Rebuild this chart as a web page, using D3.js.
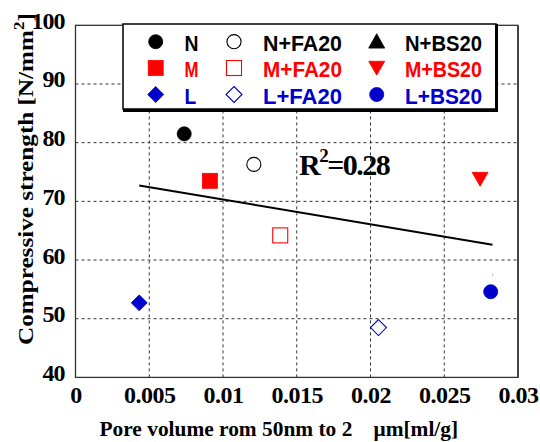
<!DOCTYPE html>
<html><head><meta charset="utf-8">
<script src="https://cdn.jsdelivr.net/npm/d3@7"></script>
<style>body{margin:0;background:#fff}svg{display:block}</style>
</head><body><svg id="c" width="540" height="442"></svg>
<script>
// ---- data ----
const seriesNames = ["N","N+FA20","N+BS20","M","M+FA20","M+BS20","L","L+FA20","L+BS20"];
const poreVolume  = [0.00737,0.01209,0.02827,0.00911,0.01388,0.02743,0.00432,0.02054,0.02815];
const strength    = [81.5,76.3,57.5,73.5,64.2,73.8,52.7,48.5,54.6];
const trendX = [0.00432, 0.02827];
const trendY = [72.7, 62.6];
const r2Label = "0.28";
const xTicks = [0,0.005,0.01,0.015,0.02,0.025,0.03];
const xTickLabels = ["0","0.005","0.01","0.015","0.02","0.025","0.03"];
const yTicks = [40,50,60,70,80,90,100];
const yTickLabels = ["40","50","60","70","80","90","100"];

// ---- styles ----
const RED="#ff0000", BLUE="#0000cc", BLK="#000000";
const markerColor = [BLK,BLK,BLK,RED,RED,RED,BLUE,BLUE,BLUE];
const markerShape = ["circle","circle","triangle","square","square","triangleDown","diamond","diamond","circle"];
const markerFilled= [true,false,true,true,false,true,true,false,true];

const svg = d3.select("#c");
const x = d3.scaleLinear().domain([0,0.03]).range([75.5,518]);
const y = d3.scaleLinear().domain([40,100]).range([377.4,25.3]);
const SERIF = "'Liberation Serif','Times New Roman',serif";
const NARROW = "'Liberation Sans Narrow','Arial Narrow','Liberation Sans',sans-serif";

// grid
const grid = svg.append("g");
grid.selectAll(".gx").data(xTicks.slice(1,-1)).join("line")
  .attr("x1",d=>x(d)).attr("x2",d=>x(d)).attr("y1",y(40)).attr("y2",y(100))
  .attr("stroke","#333").attr("stroke-width",1).attr("stroke-dasharray","3,3");
grid.selectAll(".gy").data(yTicks.slice(1,-1)).join("line")
  .attr("y1",d=>y(d)).attr("y2",d=>y(d)).attr("x1",x(0)).attr("x2",x(0.03))
  .attr("stroke","#333").attr("stroke-width",1).attr("stroke-dasharray","3,3");

// frame
svg.append("rect").attr("x",x(0)).attr("y",y(100)).attr("width",x(0.03)-x(0)).attr("height",y(40)-y(100))
  .attr("fill","none").attr("stroke","#333").attr("stroke-width",1.3);
svg.append("line").attr("x1",x(0.03)).attr("x2",x(0.03)).attr("y1",y(100)).attr("y2",y(40))
  .attr("stroke","#444").attr("stroke-width",2);

// axes via d3.axis (labels only)
const xAxis = d3.axisBottom(x).tickValues(xTicks).tickFormat((d,i)=>xTickLabels[i]).tickSize(0).tickPadding(0);
const gx = svg.append("g").attr("transform",`translate(0,${y(40)+26})`).call(xAxis);
gx.select(".domain").remove();
gx.attr("font-family",null);
gx.selectAll("text").attr("dy",0).attr("font-family",SERIF).attr("font-weight","bold")
  .attr("font-size",24).attr("letter-spacing",-0.5).attr("fill","#000");

const yAxis = d3.axisLeft(y).tickValues(yTicks).tickFormat((d,i)=>yTickLabels[i]).tickSize(0).tickPadding(0);
const gy = svg.append("g").attr("transform",`translate(${x(0)-11},0)`).call(yAxis);
gy.select(".domain").remove();
gy.attr("font-family",null);
gy.selectAll("text").attr("dy",3).attr("font-family",SERIF).attr("font-weight","bold")
  .attr("font-size",24).attr("letter-spacing",-1).attr("fill","#000");

// helper to fit width
function fit(sel, w){ const bb = sel.node().getBBox(); if(bb.width>0) sel.attr("transform",`scale(${w/bb.width},1)`); }

// axis titles
const xt = svg.append("g").attr("transform","translate(99.5,436)")
  .append("text").attr("font-family",SERIF).attr("font-weight","bold").attr("font-size",21)
  .text("Pore volume rom 50nm to 2\u3000\u03bcm[ml/g]");
fit(xt, 359);

const yt = svg.append("g").attr("transform","translate(33,345) rotate(-90)")
  .append("text").attr("font-family",SERIF).attr("font-weight","bold").attr("font-size",21);
yt.append("tspan").text("Compressive strength [N/mm");
yt.append("tspan").attr("dy",-9).attr("font-size",14).text("2");
yt.append("tspan").attr("dy",9).text("]");
fit(yt, 332);

// trend line
svg.append("path").datum(trendX.map((d,i)=>[d,trendY[i]]))
  .attr("d",d3.line().x(d=>x(d[0])).y(d=>y(d[1])))
  .attr("stroke","#000").attr("stroke-width",2).attr("fill","none");

// R2 label
const r2 = svg.append("text").attr("x",299).attr("y",175).attr("font-family",SERIF)
  .attr("font-weight","bold").attr("font-size",30).attr("letter-spacing",-1.5);
r2.append("tspan").text("R");
r2.append("tspan").attr("dy",-13).attr("font-size",19).text("2");
r2.append("tspan").attr("dy",13).text("=" + r2Label);

// marker drawing
function marker(g, shape, cx, cy, s, color, filled){
  const fill = filled?color:"#fff", sw = filled?0.8:1.1;
  if(shape==="circle") g.append("circle").attr("cx",cx).attr("cy",cy).attr("r",s*0.44)
    .attr("fill",fill).attr("stroke",color).attr("stroke-width",sw);
  else if(shape==="square") g.append("rect").attr("x",cx-s/2+0.5).attr("y",cy-s/2+0.5).attr("width",s-1).attr("height",s-1)
    .attr("fill",fill).attr("stroke",color).attr("stroke-width",sw);
  else if(shape==="diamond") g.append("path").attr("d",`M${cx},${cy-s/2}L${cx+s/2},${cy}L${cx},${cy+s/2}L${cx-s/2},${cy}Z`)
    .attr("fill",fill).attr("stroke",color).attr("stroke-width",sw);
  else if(shape==="triangle") g.append("path").attr("d",`M${cx},${cy-s*0.5}L${cx+s/2},${cy+s*0.4}L${cx-s/2},${cy+s*0.4}Z`)
    .attr("fill",fill).attr("stroke",color).attr("stroke-width",sw);
  else if(shape==="triangleDown") g.append("path").attr("d",`M${cx-s/2},${cy-s*0.42}L${cx+s/2},${cy-s*0.42}L${cx},${cy+s*0.45}Z`)
    .attr("fill",fill).attr("stroke",color).attr("stroke-width",sw);
}

// points (N+BS20 is only a tiny trace in the reference)
const pts = svg.append("g");
seriesNames.forEach((n,i)=>{
  if(n==="N+BS20"){
    pts.append("rect").attr("x",x(poreVolume[i])-0.5).attr("y",y(strength[i])-0.5).attr("width",1.2).attr("height",1.2).attr("fill","#999");
    return;
  }
  marker(pts, markerShape[i], x(poreVolume[i]), y(strength[i]), 16, markerColor[i], markerFilled[i]);
});

// legend
const lg = svg.append("g");
lg.append("rect").attr("x",123).attr("y",24).attr("width",373).attr("height",85)
  .attr("fill","#fff").attr("stroke","#000").attr("stroke-width",1.5);
lg.append("path").attr("d","M496.5,24V110.5H123").attr("fill","none").attr("stroke","#000").attr("stroke-width",3);
const colMarkX = [155.7,234,376.7], colTextX=[184.5,263,405];
const rowOrder = [[0,1,2],[3,4,5],[6,7,8]];
const rowMarkY = [41.7,68,94.5], rowBase=[50.5,77,103.5];
const textW = {"N":14,"M":14,"L":12};
rowOrder.forEach((row,r)=>row.forEach((i,c)=>{
  marker(lg, markerShape[i], colMarkX[c], rowMarkY[r], 16, markerColor[i], markerFilled[i]);
  const t = lg.append("g").attr("transform",`translate(${colTextX[c]},${rowBase[r]})`)
    .append("text").attr("font-family",NARROW).attr("font-weight","bold").attr("font-size",22.5)
    .attr("fill",markerColor[i]).text(seriesNames[i]);
  fit(t, textW[seriesNames[i]] || (c===2?77:79));
}));
</script></body></html>
